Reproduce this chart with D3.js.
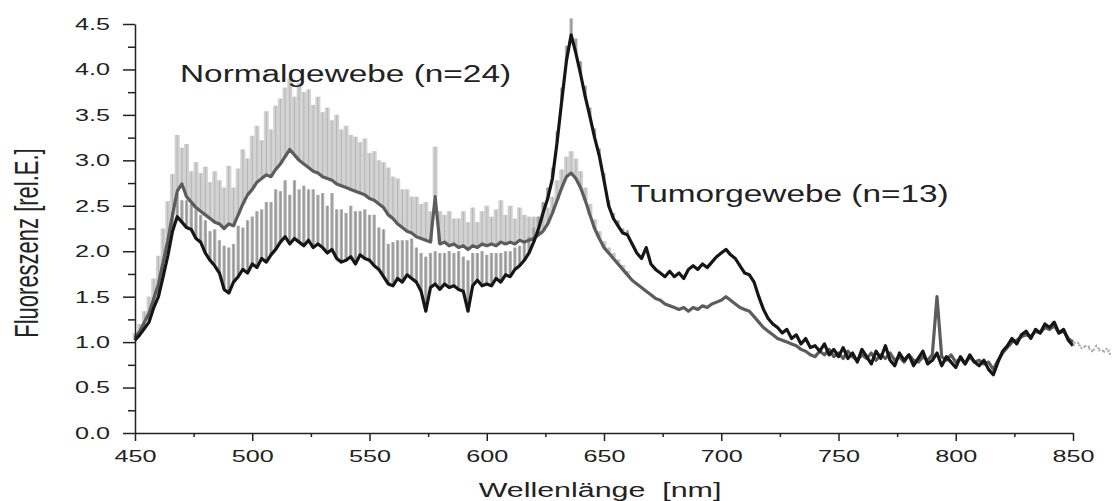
<!DOCTYPE html>
<html>
<head>
<meta charset="utf-8">
<script src="https://cdn.jsdelivr.net/npm/d3@7"></script>
<style>
  body { margin: 0; background: #fff; }
  svg { display: block; font-family: "Liberation Sans", Arial, sans-serif; }
</style>
</head>
<body>
<svg id="chart" width="1115" height="501"></svg>
<script>
// wavelength grid (nm), 2 nm steps
const wavelengths = d3.range(450, 867, 2);

// mean spectrum, tumour tissue (n=13)
const tumor = [
  1.02,1.08,1.15,1.22,1.38,1.50,1.72,1.95,2.22,2.38, // 450
  2.32,2.26,2.24,2.14,2.10,1.98,1.90,1.84,1.76,1.58, // 470
  1.54,1.66,1.72,1.80,1.76,1.86,1.82,1.92,1.88,1.96, // 490
  2.02,2.10,2.16,2.08,2.14,2.10,2.06,2.12,2.04,2.08, // 510
  2.04,1.98,2.02,1.92,1.88,1.90,1.94,1.86,1.96,1.92, // 530
  1.90,1.84,1.80,1.72,1.64,1.62,1.70,1.66,1.74,1.70, // 550
  1.66,1.56,1.34,1.60,1.64,1.58,1.64,1.60,1.62,1.58, // 570
  1.56,1.34,1.62,1.68,1.62,1.64,1.62,1.70,1.66,1.74, // 590
  1.72,1.80,1.84,1.90,1.98,2.10,2.24,2.42,2.58,2.80, // 610
  3.20,3.66,4.10,4.38,4.18,3.95,3.70,3.48,3.25,3.05, // 630
  2.78,2.50,2.36,2.28,2.20,2.18,2.08,1.98,1.92,2.04, // 650
  1.86,1.80,1.76,1.72,1.78,1.72,1.76,1.70,1.80,1.84, // 670
  1.80,1.86,1.82,1.88,1.94,1.98,2.02,1.96,1.92,1.84, // 690
  1.76,1.74,1.66,1.50,1.36,1.26,1.20,1.16,1.10,1.14, // 710
  1.04,1.08,0.98,1.04,0.94,0.96,0.90,0.98,0.86,0.92, // 730
  0.84,0.94,0.82,0.88,0.78,0.92,0.84,0.76,0.90,0.82, // 750
  0.96,0.80,0.74,0.88,0.80,0.86,0.74,0.82,0.90,0.76, // 770
  0.80,0.88,0.74,0.84,0.78,0.72,0.84,0.76,0.86,0.78, // 790
  0.74,0.80,0.70,0.64,0.78,0.90,0.96,1.04,0.98,1.08, // 810
  1.12,1.04,1.14,1.10,1.20,1.16,1.22,1.10,1.14,1.02, // 830
  0.96,1.00,0.92,0.98,0.90,0.96,0.88,0.94,0.86        // 850
];

// mean spectrum, normal tissue (n=24)
const normal = [
  1.05,1.12,1.22,1.32,1.48,1.64,1.88,2.12,2.40,2.66, // 450
  2.74,2.60,2.54,2.48,2.44,2.40,2.36,2.32,2.30,2.25, // 470
  2.30,2.28,2.40,2.52,2.62,2.68,2.76,2.80,2.84,2.82, // 490
  2.90,2.96,3.04,3.12,3.06,3.00,2.96,2.92,2.88,2.86, // 510
  2.82,2.80,2.78,2.74,2.72,2.70,2.68,2.66,2.64,2.62, // 530
  2.58,2.56,2.52,2.48,2.40,2.36,2.30,2.26,2.22,2.20, // 550
  2.16,2.14,2.12,2.10,2.60,2.08,2.10,2.06,2.08,2.04, // 570
  2.06,2.02,2.06,2.04,2.08,2.06,2.08,2.06,2.10,2.08, // 590
  2.10,2.08,2.12,2.10,2.12,2.14,2.18,2.22,2.30,2.42, // 610
  2.56,2.70,2.82,2.86,2.80,2.70,2.56,2.40,2.25,2.14, // 630
  2.04,1.98,1.92,1.86,1.80,1.74,1.68,1.64,1.60,1.56, // 650
  1.52,1.48,1.46,1.42,1.40,1.38,1.36,1.38,1.34,1.38, // 670
  1.36,1.40,1.38,1.42,1.44,1.46,1.50,1.46,1.42,1.38, // 690
  1.36,1.34,1.28,1.22,1.16,1.12,1.08,1.04,1.02,1.00, // 710
  0.98,0.96,0.92,0.90,0.86,0.84,0.90,0.86,0.92,0.84, // 730
  0.88,0.82,0.90,0.84,0.80,0.86,0.82,0.88,0.80,0.86, // 750
  0.82,0.88,0.80,0.84,0.78,0.86,0.80,0.78,0.84,0.80, // 770
  0.86,1.50,0.84,0.80,0.86,0.78,0.82,0.76,0.84,0.78, // 790
  0.80,0.76,0.78,0.70,0.80,0.88,0.94,1.00,1.02,1.06, // 810
  1.08,1.06,1.12,1.10,1.16,1.14,1.18,1.10,1.12,1.04, // 830
  1.00,0.98,0.94,0.96,0.90,0.94,0.92,0.88,0.92        // 850
];

// upper error bars (standard deviation), 450-660 nm
const normalSd = [
  .05,.08,.12,.18,.22,.31,.37,.43,.45,.62, // 450
  .40,.58,.34,.50,.42,.53,.40,.56,.48,.45, // 470
  .64,.42,.51,.60,.40,.59,.62,.42,.70,.52, // 490
  .70,.72,.76,.78,.64,.85,.79,.86,.73,.84, // 510
  .71,.78,.66,.76,.62,.68,.60,.60,.56,.62, // 530
  .50,.54,.48,.50,.52,.46,.50,.42,.46,.40, // 550
  .44,.38,.42,.34,.55,.36,.30,.38,.28,.32, // 570
  .38,.30,.42,.28,.36,.44,.30,.40,.46,.32, // 590
  .40,.28,.36,.30,.26,.24,.20,.20,.18,.18, // 610
  .22,.20,.22,.24,.22,.18,.14,.12,.10,.08, // 630
  .07,.06,.06,.05,.05,.04                  // 650
];
const tumorSd = [
  .04,.05,.06,.08,.10,.12,.14,.18,.22,.26, // 450
  .24,.30,.28,.32,.30,.36,.32,.40,.36,.48, // 470
  .50,.42,.56,.46,.58,.52,.62,.54,.66,.58, // 490
  .66,.56,.62,.54,.64,.58,.66,.56,.64,.54, // 510
  .60,.52,.62,.54,.58,.52,.56,.58,.48,.54, // 530
  .50,.56,.46,.52,.44,.48,.42,.46,.38,.44, // 550
  .38,.42,.60,.38,.36,.40,.34,.40,.36,.42, // 570
  .38,.56,.36,.30,.38,.32,.36,.28,.32,.26, // 590
  .28,.24,.22,.20,.18,.16,.14,.12,.12,.12, // 610
  .12,.14,.16,.18,.16,.14,.12,.10,.10,.08, // 630
  .08,.06,.06,.06,.05,.05                  // 650
];

const xTicks = [450, 500, 550, 600, 650, 700, 750, 800, 850];
const yTicks = [0, 0.5, 1.0, 1.5, 2.0, 2.5, 3.0, 3.5, 4.0, 4.5];

// layout
const marginLeft = 135;
const plotRight = 1073;
const marginTop = 24;
const plotBottom = 433;
const sx = 1.48; // the original is stretched horizontally

const svg = d3.select("#chart");

const x = d3.scaleLinear().domain([450, 850]).range([marginLeft, plotRight]);
const y = d3.scaleLinear().domain([0, 4.5]).range([plotBottom, marginTop]);

const rows = wavelengths.map((w, i) => ({
  w: w, t: tumor[i], n: normal[i], ts: tumorSd[i], ns: normalSd[i]
}));
const step = x(452) - x(450);

// error bars, normal tissue (light grey)
const nb = svg.append("g");
nb.selectAll("rect")
  .data(rows.filter(d => d.ns !== undefined))
  .join("rect")
  .attr("x", d => x(d.w) - step / 2 - 0.2)
  .attr("width", step + 0.4)
  .attr("y", d => y(d.n + d.ns))
  .attr("height", d => y(d.n) - y(d.n + d.ns))
  .attr("fill", "#d2d2d2");
nb.selectAll("line")
  .data(rows.filter(d => d.ns !== undefined))
  .join("line")
  .attr("x1", d => x(d.w)).attr("x2", d => x(d.w))
  .attr("y1", d => y(d.n + d.ns)).attr("y2", d => y(d.n))
  .attr("stroke", "#b4b4b4").attr("stroke-width", 1);

// error bars, tumour tissue (mid grey)
const tb = svg.append("g");
tb.selectAll("rect")
  .data(rows.filter(d => d.ts !== undefined))
  .join("rect")
  .attr("x", d => x(d.w) - step * 0.35)
  .attr("width", step * 0.7)
  .attr("y", d => y(d.t + d.ts))
  .attr("height", d => y(d.t) - y(d.t + d.ts))
  .attr("fill", "#b0b0b0");
tb.selectAll("line")
  .data(rows.filter(d => d.ts !== undefined))
  .join("line")
  .attr("x1", d => x(d.w)).attr("x2", d => x(d.w))
  .attr("y1", d => y(d.t + d.ts)).attr("y2", d => y(d.t))
  .attr("stroke", "#939393").attr("stroke-width", 1);

// lines
const lineN = d3.line().x(d => x(d.w)).y(d => y(d.n));
const lineT = d3.line().x(d => x(d.w)).y(d => y(d.t));
const main = rows.filter(d => d.w <= 850);
const tail = rows.filter(d => d.w >= 850);

svg.append("path").datum(main)
  .attr("fill", "none").attr("stroke", "#5c5c5c")
  .attr("stroke-width", 3.2).attr("stroke-linejoin", "round")
  .attr("d", lineN);
svg.append("path").datum(main)
  .attr("fill", "none").attr("stroke", "#161616")
  .attr("stroke-width", 3.2).attr("stroke-linejoin", "round")
  .attr("d", lineT);

// faint dashed continuation past 850 nm
svg.append("path").datum(tail)
  .attr("fill", "none").attr("stroke", "#b8b8b8")
  .attr("stroke-width", 2).attr("stroke-dasharray", "3,3")
  .attr("d", lineN);
svg.append("path").datum(tail)
  .attr("fill", "none").attr("stroke", "#a8a8a8")
  .attr("stroke-width", 2).attr("stroke-dasharray", "2,4")
  .attr("d", lineT);

// axes
const axisColor = "#222";

const gx = svg.append("g")
  .attr("transform", `translate(0,${plotBottom})`)
  .call(d3.axisBottom(x).tickValues(xTicks).tickSize(8).tickSizeOuter(0));
svg.append("g")
  .attr("transform", `translate(0,${plotBottom})`)
  .call(d3.axisBottom(x).tickValues([475, 525, 575, 625, 675, 725, 775, 825])
    .tickSize(4).tickFormat(""))
  .call(g => g.select(".domain").remove());

const gy = svg.append("g")
  .attr("transform", `translate(${marginLeft},0)`)
  .call(d3.axisLeft(y).tickValues(yTicks).tickSize(12).tickSizeOuter(0)
    .tickFormat(d3.format(".1f")));
svg.append("g")
  .attr("transform", `translate(${marginLeft},0)`)
  .call(d3.axisLeft(y).tickValues([0.25, 0.75, 1.25, 1.75, 2.25, 2.75, 3.25, 3.75, 4.25])
    .tickSize(7).tickFormat(""))
  .call(g => g.select(".domain").remove());

svg.selectAll(".domain, .tick line")
  .attr("stroke", axisColor).attr("stroke-width", 1.5);

gx.selectAll("text")
  .attr("y", 17)
  .attr("transform", `scale(${sx},1)`)
  .style("font-size", "17px")
  .style("font-family", "'Liberation Sans', Arial, sans-serif")
  .attr("fill", "#222");

gy.selectAll("text")
  .attr("x", -25 / sx)
  .attr("transform", `scale(${sx},1)`)
  .style("font-size", "17px")
  .style("font-family", "'Liberation Sans', Arial, sans-serif")
  .attr("fill", "#222");

// axis titles
svg.append("text")
  .attr("transform", `translate(600,497) scale(1.52,1)`)
  .attr("text-anchor", "middle")
  .style("font-size", "20px")
  .attr("fill", "#222")
  .attr("xml:space", "preserve")
  .text("Wellenlänge  [nm]");

svg.append("text")
  .attr("transform", `translate(38,243) scale(1.5,1) rotate(-90)`)
  .attr("text-anchor", "middle")
  .style("font-size", "22px")
  .attr("fill", "#222")
  .text("Fluoreszenz [rel.E.]");

// series labels
svg.append("text")
  .attr("transform", `translate(180,82) scale(1.42,1)`)
  .style("font-size", "23.5px")
  .attr("fill", "#222")
  .text("Normalgewebe (n=24)");

svg.append("text")
  .attr("transform", `translate(630,202) scale(1.42,1)`)
  .style("font-size", "23.5px")
  .attr("fill", "#222")
  .text("Tumorgewebe (n=13)");
</script>
</body>
</html>
